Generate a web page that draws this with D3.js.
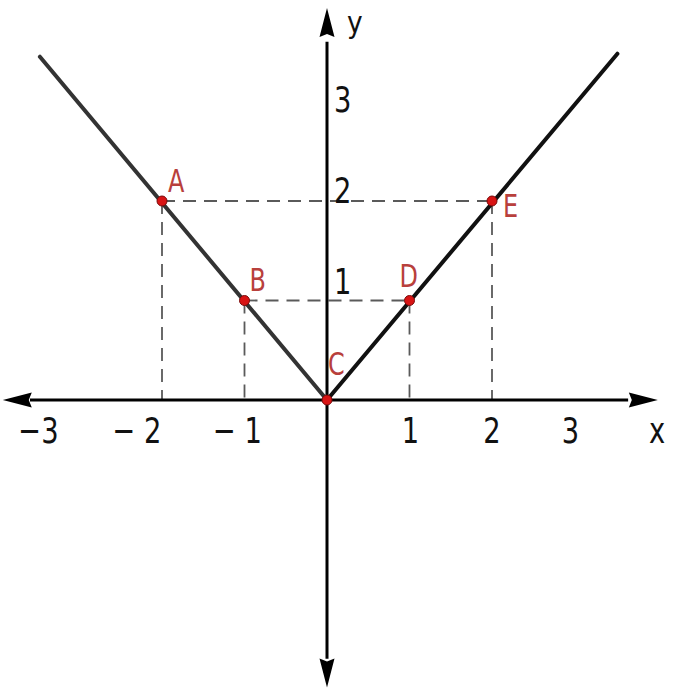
<!DOCTYPE html>
<html>
<head>
<meta charset="utf-8">
<script src="https://cdn.jsdelivr.net/npm/d3@7"></script>
<style>
html,body{margin:0;padding:0;background:#fff;}
svg{display:block;}
</style>
</head>
<body>
<svg id="chart" width="700" height="700"></svg>
<script>
// ---- data ----
const pointNames = ["A", "B", "C", "D", "E"];
const pointX = [-2, -1, 0, 1, 2];
const pointY = [2, 1, 0, 1, 2];
const leftBranchX = [-3.48, 0];
const leftBranchY = [3.45, 0];
const rightBranchX = [0, 3.52];
const rightBranchY = [0, 3.48];
const xTickValues = [-3, -2, -1, 1, 2, 3];
const xTickLabels = ["\u22123", "\u2212 2", "\u2212 1", "1", "2", "3"];
const yTickValues = [1, 2, 3];
const yTickLabels = ["1", "2", "3"];

// ---- scales ----
const svg = d3.select("#chart");
const x = d3.scaleLinear().domain([0, 1]).range([327, 409.5]);
const y = d3.scaleLinear().domain([0, 2]).range([400, 201]);

const font = "'DejaVu Sans Condensed', 'DejaVu Sans', sans-serif";

// ---- dashed guides ----
const dashG = svg.append("g")
  .attr("stroke", "#5a5a5a").attr("stroke-width", 1.8)
  .attr("stroke-dasharray", "13,8").attr("fill", "none");
[[0, 4], [1, 3]].forEach(([i, j]) => {
  dashG.append("line")
    .attr("x1", x(pointX[i])).attr("y1", y(pointY[i]))
    .attr("x2", x(pointX[j])).attr("y2", y(pointY[j]));
});
[0, 1, 3, 4].forEach(i => {
  dashG.append("line")
    .attr("x1", x(pointX[i])).attr("y1", y(pointY[i]))
    .attr("x2", x(pointX[i])).attr("y2", y(0));
});

// ---- axes with arrows ----
const axG = svg.append("g");
const axW = 3;
axG.append("line").attr("x1", x(-3.6)).attr("x2", x(3.65)).attr("y1", y(0)).attr("y2", y(0))
  .attr("stroke", "#000").attr("stroke-width", axW);
axG.append("line").attr("x1", x(0)).attr("x2", x(0)).attr("y1", y(3.6)).attr("y2", y(-2.6))
  .attr("stroke", "#000").attr("stroke-width", axW);
function arrow(tx, ty, dx, dy) {
  const len = 29, hw = 7.5;
  const bx = tx - dx * len, by = ty - dy * len;
  const px = -dy, py = dx;
  axG.append("path")
    .attr("d", `M${tx},${ty}L${bx + px * hw},${by + py * hw}L${bx + dx * 3},${by + dy * 3}L${bx - px * hw},${by - py * hw}Z`)
    .attr("fill", "#000");
}
arrow(x(-3.93), y(0), -1, 0);
arrow(x(4.01), y(0), 1, 0);
arrow(x(0), y(3.94), 0, -1);
arrow(x(0), y(-2.89), 0, 1);

// ---- V graph ----
const line = d3.line().x(d => x(d[0])).y(d => y(d[1]));
svg.append("path")
  .datum(leftBranchX.map((v, i) => [v, leftBranchY[i]]))
  .attr("d", line).attr("fill", "none").attr("stroke", "#333")
  .attr("stroke-width", 4).attr("stroke-linecap", "round");
svg.append("path")
  .datum(rightBranchX.map((v, i) => [v, rightBranchY[i]]))
  .attr("d", line).attr("fill", "none").attr("stroke", "#111")
  .attr("stroke-width", 4).attr("stroke-linecap", "round");

// ---- tick labels (slightly tall, narrow glyphs) ----
function tallText(g, tx, ty, str, anchor, size, color, sy) {
  g.append("text")
    .attr("transform", `translate(${tx},${ty}) scale(0.95,${sy || 1.12})`)
    .attr("text-anchor", anchor)
    .attr("font-family", font).attr("font-size", size).attr("fill", color)
    .text(str);
}
const labG = svg.append("g");
const xLabelShift = [-41, -25, -7, 1, 0, -4];
xTickValues.forEach((d, i) => tallText(labG, x(d) + xLabelShift[i], y(0) + 43, xTickLabels[i], "middle", 32, "#111"));
const yLabelShift = [-7, 2, 10];
yTickValues.forEach((d, i) => tallText(labG, x(0) + 7, y(d) + yLabelShift[i], yTickLabels[i], "start", 32, "#111"));
tallText(labG, 649, 443, "x", "start", 32, "#111");
tallText(labG, 347, 33, "y", "start", 31, "#111", 1.0);

// ---- points ----
svg.append("g").selectAll("circle").data(pointX).join("circle")
  .attr("cx", d => x(d)).attr("cy", (d, i) => y(pointY[i]))
  .attr("r", 5).attr("fill", "#d81414").attr("stroke", "#7a0a0a").attr("stroke-width", 1);

const labelOff = [[6, -9], [5, -10], [1, -25], [-10, -14], [11, 16]];
pointNames.forEach((d, i) => tallText(svg, x(pointX[i]) + labelOff[i][0], y(pointY[i]) + labelOff[i][1], d, "start", 28, "#b8403c"));
</script>
</body>
</html>
